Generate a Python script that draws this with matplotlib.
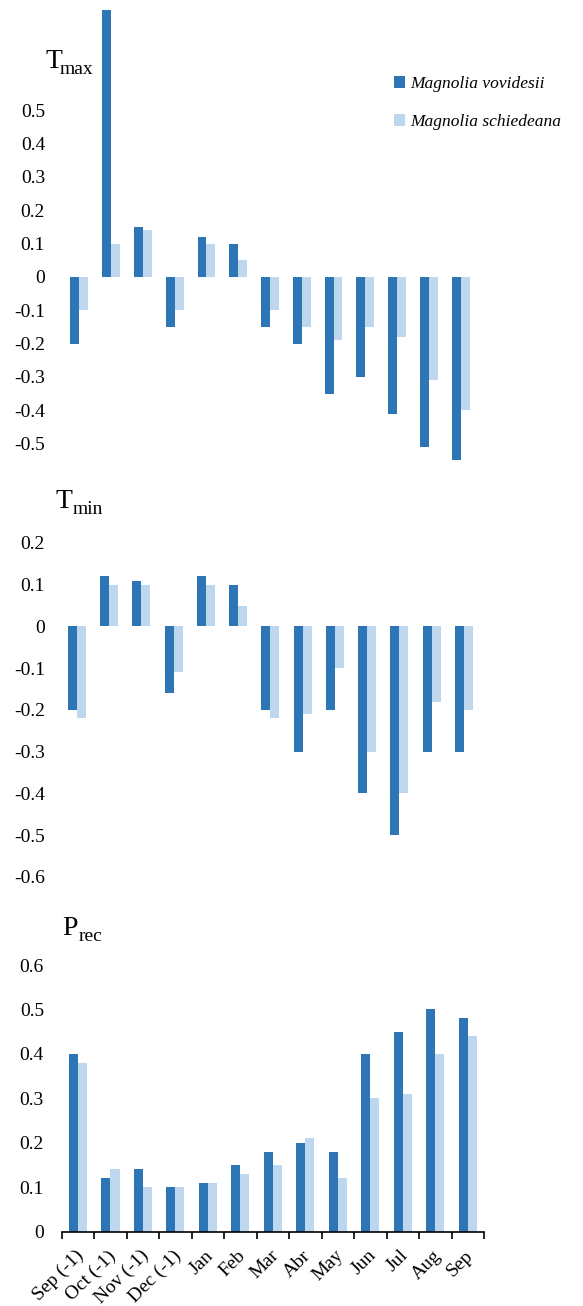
import matplotlib
matplotlib.use("Agg")
import matplotlib.pyplot as plt
import matplotlib.transforms as mtransforms
import numpy as np

months = ["Sep (-1)", "Oct (-1)", "Nov (-1)", "Dec (-1)", "Jan", "Feb", "Mar",
          "Abr", "May", "Jun", "Jul", "Aug", "Sep"]
species = ["Magnolia vovidesii", "Magnolia schiedeana"]

tmax_vov = [-0.20, 0.80, 0.15, -0.15, 0.12, 0.10, -0.15, -0.20, -0.35, -0.30, -0.41, -0.51, -0.55]
tmax_sch = [-0.10, 0.10, 0.14, -0.10, 0.10, 0.05, -0.10, -0.15, -0.19, -0.15, -0.18, -0.31, -0.40]

tmin_vov = [-0.20, 0.12, 0.11, -0.16, 0.12, 0.10, -0.20, -0.30, -0.20, -0.40, -0.50, -0.30, -0.30]
tmin_sch = [-0.22, 0.10, 0.10, -0.11, 0.10, 0.05, -0.22, -0.21, -0.10, -0.30, -0.40, -0.18, -0.20]

prec_vov = [0.40, 0.12, 0.14, 0.10, 0.11, 0.15, 0.18, 0.20, 0.18, 0.40, 0.45, 0.50, 0.48]
prec_sch = [0.38, 0.14, 0.10, 0.10, 0.11, 0.13, 0.15, 0.21, 0.12, 0.30, 0.31, 0.40, 0.44]

dark = "#2E75B6"
light = "#BDD7EE"
W, H = 583, 1306

plt.rcParams["font.family"] = ["Liberation Serif", "DejaVu Serif"]

fig = plt.figure(figsize=(W / 100, H / 100), dpi=100)


def px_axes(left, right, top, bottom):
    # axes box given in pixels from the top-left corner
    return fig.add_axes([left / W, 1 - bottom / H, (right - left) / W, (bottom - top) / H])


def draw_panel(ax, a, b, ylim, yticks, label_right=45):
    x = np.arange(len(months))
    w = 0.28
    ax.bar(x - w / 2, a, w, color=dark, label=species[0])
    ax.bar(x + w / 2, b, w, color=light, label=species[1])
    ax.set_xlim(-0.5, len(months) - 0.5)
    ax.set_ylim(*ylim)
    ax.set_yticks(yticks)
    ax.set_yticklabels(["0" if abs(t) < 1e-9 else "%.1f" % t for t in yticks])
    # keep the right edge of the y labels at the same place in every panel
    left_px = ax.get_position().x0 * W
    ax.tick_params(axis="y", length=0, pad=(left_px - label_right) * 0.72, labelsize=14)
    for s in ax.spines.values():
        s.set_visible(False)


ax1 = px_axes(63.4, 476.6, 10, 477)
draw_panel(ax1, tmax_vov, tmax_sch, (-0.6, 0.8), np.round(np.arange(-0.5, 0.51, 0.1), 1))
ax1.set_xticks([])

ax2 = px_axes(60.6, 480.1, 543, 877)
draw_panel(ax2, tmin_vov, tmin_sch, (-0.6, 0.2), np.round(np.arange(-0.6, 0.21, 0.1), 1))
ax2.set_xticks([])

ax3 = px_axes(61.7, 484, 965, 1231.7)
draw_panel(ax3, prec_vov, prec_sch, (0, 0.6), np.round(np.arange(0, 0.61, 0.1), 1), label_right=44)
ax3.spines["bottom"].set_visible(True)
ax3.spines["bottom"].set_linewidth(1.2)
ax3.set_xticks(np.arange(len(months)))
ax3.set_xticklabels(months, rotation=45, ha="right", va="top", rotation_mode="anchor", fontsize=14)
ax3.set_xticks(np.arange(-0.5, len(months)), minor=True)
ax3.tick_params(axis="x", which="major", length=0, pad=11)
ax3.tick_params(axis="x", which="minor", length=5, width=1.2, direction="out")
shift = mtransforms.ScaledTranslation(-3 / 100, 0, fig.dpi_scale_trans)
for lab in ax3.get_xticklabels():
    lab.set_transform(lab.get_transform() + shift)


def panel_title(x, y, main, sub, sub_dx):
    fig.text(x / W, 1 - y / H, main, fontsize=20, va="baseline", ha="left")
    fig.text((x + sub_dx) / W, 1 - (y + 6) / H, sub, fontsize=14, va="baseline", ha="left")


panel_title(45, 68, "T", "max", 15)
panel_title(56, 508, "T", "min", 17)
panel_title(62, 935, "P", "rec", 17)

fig.legend(handles=ax1.containers, labels=species, loc="upper left",
           bbox_to_anchor=(378 / W, 1 - 60 / H), frameon=False,
           prop={"style": "italic", "size": 12.5}, handlelength=0.65, handleheight=0.75,
           handletextpad=0.3, labelspacing=1.25)

fig.savefig("out.png", dpi=100)
